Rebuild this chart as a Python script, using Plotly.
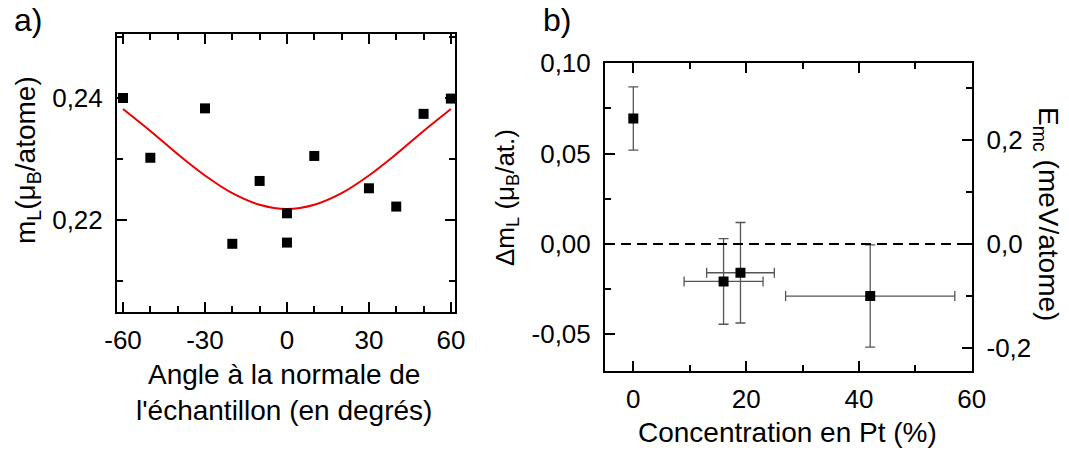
import plotly.graph_objects as go

W, H = 1069, 452

# ---- Panel a) data ----
angle = [-60, -50, -30, -20, -10, 0, 0, 10, 30, 40, 50, 60]
m_L = [0.2400, 0.2302, 0.2383, 0.2161, 0.2264, 0.2211, 0.2163, 0.2305, 0.2252, 0.2222, 0.2374, 0.2399]
fit_angle = [-60, -50, -40, -30, -20, -10, 0, 10, 20, 30, 40, 50, 60]
fit_mL = [0.2382, 0.2346, 0.2308, 0.2273, 0.2244, 0.2225, 0.2218, 0.2225, 0.2244, 0.2273, 0.2308, 0.2346, 0.2382]
a_xticks = [-60, -30, 0, 30, 60]
a_xlabels = ["-60", "-30", "0", "30", "60"]
a_yticks = [0.22, 0.24]
a_ylabels = ["0,22", "0,24"]

# ---- Panel b) data ----
conc = [0, 16, 19, 42]
conc_err = [0, 7, 6, 15]
dmL = [0.0694, -0.0207, -0.0159, -0.0288]
dmL_err = [0.0175, 0.0237, 0.0278, 0.0283]
b_xticks = [0, 20, 40, 60]
b_xlabels = ["0", "20", "40", "60"]
b_yticks = [-0.05, 0.0, 0.05, 0.10]
b_ylabels = ["-0,05", "0,00", "0,05", "0,10"]
b_y2ticks = [-0.2, 0.0, 0.2]
b_y2labels = ["-0,2", "0,0", "0,2"]

FONT = "Liberation Sans, Arial, sans-serif"

def px(x):
    return x / W

def py(y):
    return 1 - y / H

fig = go.Figure()

fig.add_trace(go.Scatter(x=fit_angle, y=fit_mL, mode="lines",
                         line=dict(color="#ee0000", width=2, shape="spline"),
                         xaxis="x", yaxis="y", showlegend=False))
fig.add_trace(go.Scatter(x=angle, y=m_L, mode="markers",
                         marker=dict(symbol="square", size=10, color="black"),
                         xaxis="x", yaxis="y", showlegend=False, cliponaxis=False))

fig.add_trace(go.Scatter(x=conc, y=dmL, mode="markers",
                         marker=dict(symbol="square", size=10, color="black"),
                         error_y=dict(type="data", array=dmL_err, color="#555555", thickness=1.3, width=5),
                         error_x=dict(type="data", array=conc_err, color="#555555", thickness=1.3, width=5),
                         xaxis="x2", yaxis="y2", showlegend=False))
# invisible trace to activate right axis
fig.add_trace(go.Scatter(x=[None], y=[None], xaxis="x2", yaxis="y3", showlegend=False))

axis_common = dict(showline=True, linecolor="black", linewidth=2, ticks="inside",
                   ticklen=10, tickwidth=2, tickcolor="black", showgrid=False, zeroline=False,
                   automargin=False,
                   tickfont=dict(family=FONT, size=26, color="black"))

fig.update_layout(
    width=W, height=H, autosize=False,
    margin=dict(l=0, r=0, t=0, b=0, pad=0),
    paper_bgcolor="white", plot_bgcolor="white",
    font=dict(family=FONT, color="black"),
    xaxis=dict(domain=[px(117), px(455)], range=[-62.2, 61.5], anchor="y",
               tickmode="array", tickvals=a_xticks, ticktext=a_xlabels, mirror="ticks",
               ticklabelstandoff=4,
               minor=dict(dtick=10, tick0=0, ticks="inside", ticklen=6, tickwidth=2, tickcolor="black"),
               **axis_common),
    yaxis=dict(domain=[py(312), py(34)], range=[0.20492, 0.25049], anchor="x",
               tickmode="array", tickvals=a_yticks, ticktext=a_ylabels, mirror="ticks",
               ticklabelstandoff=7,
               minor=dict(dtick=0.01, tick0=0, ticks="inside", ticklen=6, tickwidth=2, tickcolor="black"),
               **axis_common),
    xaxis2=dict(domain=[px(605), px(972.3)], range=[-5.02, 60.1], anchor="y2",
                tickmode="array", tickvals=b_xticks, ticktext=b_xlabels, mirror="ticks",
                ticklabelstandoff=4,
                minor=dict(dtick=10, tick0=0, ticks="inside", ticklen=6, tickwidth=2, tickcolor="black"),
                **axis_common),
    yaxis2=dict(domain=[py(370.7), py(63.3)], range=[-0.0701, 0.10], anchor="x2",
                tickmode="array", tickvals=b_yticks, ticktext=b_ylabels,
                ticklabelstandoff=7,
                minor=dict(dtick=0.025, tick0=0, ticks="inside", ticklen=6, tickwidth=2, tickcolor="black"),
                **axis_common),
    yaxis3=dict(overlaying="y2", side="right", anchor="x2", range=[-0.2435, 0.3474],
                tickmode="array", tickvals=b_y2ticks, ticktext=b_y2labels,
                ticklabelstandoff=7,
                minor=dict(dtick=0.1, tick0=0, ticks="inside", ticklen=6, tickwidth=2, tickcolor="black"),
                **axis_common),
)

fig.add_shape(type="line", xref="x2 domain", yref="y2", x0=0, x1=1, y0=0, y1=0,
              line=dict(color="black", width=2, dash="10px,6px"))

ann_font = dict(family=FONT, size=28, color="black")

def ann(x, y, text, angle=0, font=ann_font):
    fig.add_annotation(x=px(x), y=py(y), xref="paper", yref="paper", text=text,
                       textangle=angle, showarrow=False, xanchor="center", yanchor="middle",
                       font=font)

ann(28, 20, "a)", font=dict(family=FONT, size=32, color="black"))
ann(557, 20, "b)", font=dict(family=FONT, size=32, color="black"))
ann(27, 160, "m<sub>L</sub>(μ<sub>B</sub>/atome)", angle=-90)
ann(284, 392, "Angle à la normale de<br>l'échantillon (en degrés)")
ann(506, 198, "Δm<sub>L</sub> (μ<sub>B</sub>/at.)", angle=-90, font=dict(family=FONT, size=26, color="black"))
ann(1046, 214, "E<sub>mc</sub> (meV/atome)", angle=90)
ann(787, 432, "Concentration en Pt (%)")

fig.write_html("out.html", post_script="document.body.style.margin='0';",
               config={"displayModeBar": False})
